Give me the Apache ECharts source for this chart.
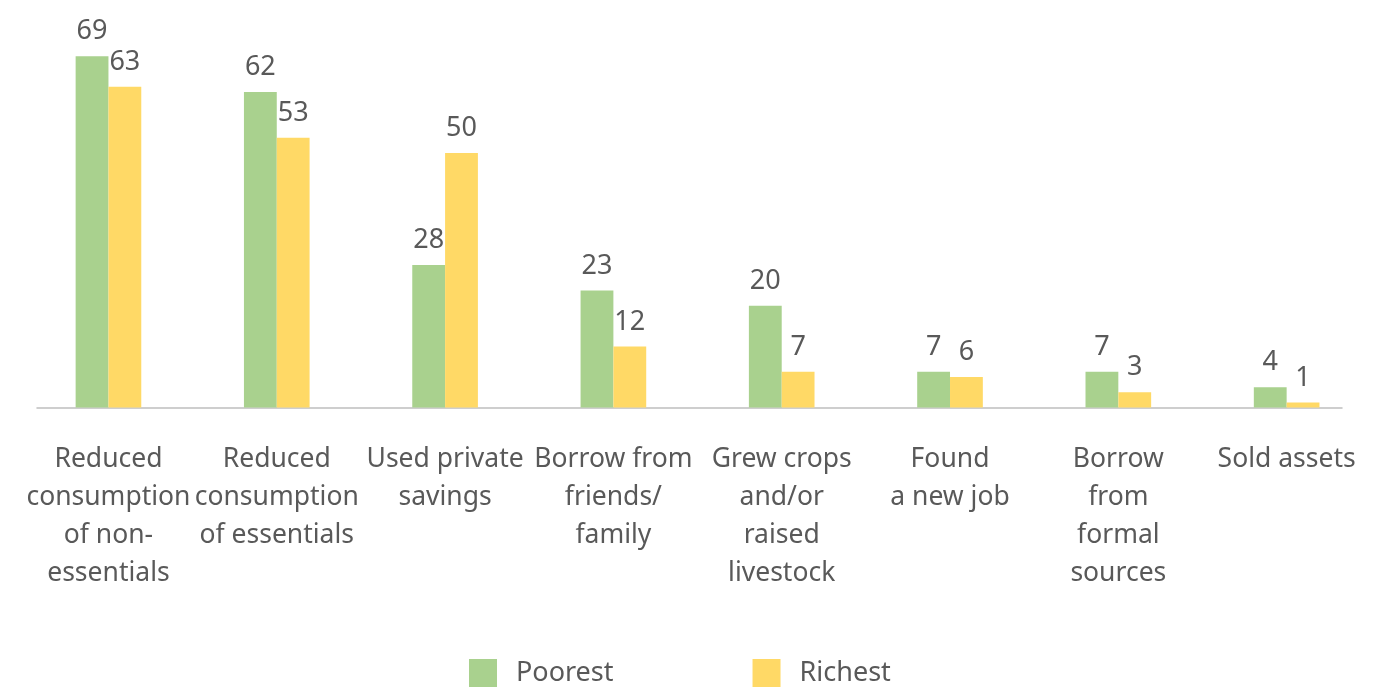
<!DOCTYPE html>
<html>
<head>
<meta charset="utf-8">
<title>Coping strategies: poorest vs richest</title>
<script src="https://cdn.jsdelivr.net/npm/echarts@6/dist/echarts.min.js"></script>
<style>
  html, body { margin: 0; padding: 0; background: #ffffff; }
  #chart { width: 1386px; height: 687px; }
</style>
</head>
<body>
<div id="chart"></div>
<script>
// Coping strategies, share of households (%)
const categories = [
  'Reduced\nconsumption\nof non-\nessentials',
  'Reduced\nconsumption\nof essentials',
  'Used private\nsavings',
  'Borrow from\nfriends/\nfamily',
  'Grew crops\nand/or\nraised\nlivestock',
  'Found\na new job',
  'Borrow\nfrom\nformal\nsources',
  'Sold assets'
];
const poorest = [69, 62, 28, 23, 20, 7, 7, 4];
const richest = [63, 53, 50, 12, 7, 6, 3, 1];
const seriesNames = ['Poorest', 'Richest'];

const FONT = '"Noto Sans", "Open Sans", sans-serif';
const TEXT = '#595959';

const chart = echarts.init(document.getElementById('chart'), null, { renderer: 'canvas' });

const valueLabel = {
  show: true,
  position: 'top',
  distance: 11,
  color: TEXT,
  fontFamily: FONT,
  fontSize: 27
};

chart.setOption({
  backgroundColor: '#ffffff',
  animation: false,
  legend: {
    data: seriesNames,
    left: 464,
    top: 654,
    icon: 'rect',
    itemWidth: 28,
    itemHeight: 28,
    itemGap: 139,
    textStyle: {
      color: TEXT,
      fontFamily: FONT,
      fontSize: 27,
      padding: [0, 0, 0, 14]
    }
  },
  grid: [
    // plotting area for the bars
    { left: 24.3, right: 15.2, top: 51.2, bottom: 279.5, containLabel: false },
    // baseline rule underneath the bars
    { left: 37, right: 44, top: 406.5, height: 1, containLabel: false }
  ],
  xAxis: [
    {
      type: 'category',
      gridIndex: 0,
      data: categories,
      axisLine: { show: false },
      axisTick: { show: false },
      axisLabel: {
        interval: 0,
        hideOverlap: false,
        margin: 32.5,
        color: TEXT,
        fontFamily: FONT,
        fontSize: 26.5,
        lineHeight: 38,
        align: 'center'
      }
    },
    {
      type: 'category',
      gridIndex: 1,
      data: [''],
      position: 'bottom',
      axisLine: { show: true, lineStyle: { color: '#BFBFBF', width: 1.5 } },
      axisTick: { show: false },
      axisLabel: { show: false }
    }
  ],
  yAxis: [
    {
      type: 'value',
      gridIndex: 0,
      min: 0,
      max: 70,
      show: false,
      splitLine: { show: false }
    },
    {
      type: 'value',
      gridIndex: 1,
      min: 0,
      max: 1,
      show: false,
      splitLine: { show: false }
    }
  ],
  series: [
    {
      name: seriesNames[0],
      type: 'bar',
      xAxisIndex: 0,
      yAxisIndex: 0,
      data: poorest,
      barGap: '0%',
      barCategoryGap: '61%',
      itemStyle: { color: '#A9D18E' },
      label: valueLabel
    },
    {
      name: seriesNames[1],
      type: 'bar',
      xAxisIndex: 0,
      yAxisIndex: 0,
      data: richest,
      barGap: '0%',
      barCategoryGap: '61%',
      itemStyle: { color: '#FFD966' },
      label: valueLabel
    }
  ]
});
</script>
</body>
</html>
